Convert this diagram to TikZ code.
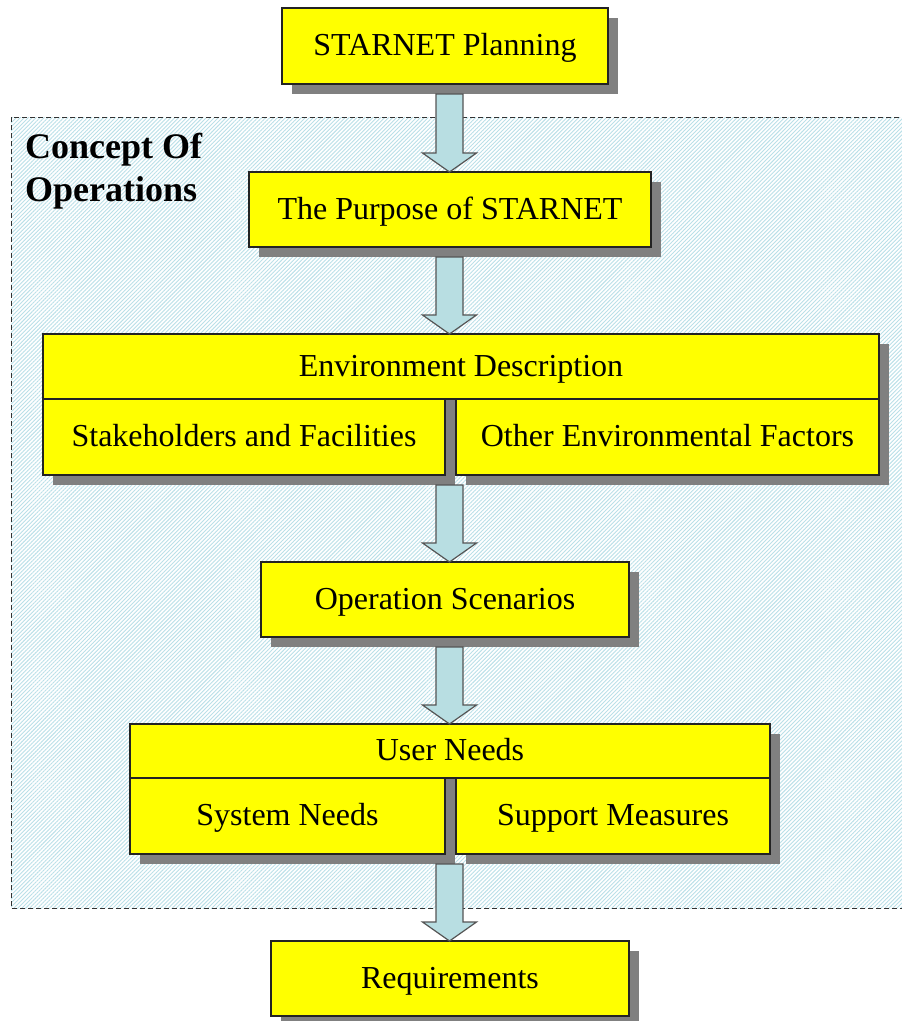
\documentclass[tikz,border=0pt]{standalone}
\usepackage{fontspec}
\setmainfont{Liberation Serif}
\usetikzlibrary{shadows,patterns.meta,calc}

\definecolor{boxyellow}{RGB}{255,255,0}
\definecolor{shadowgray}{RGB}{128,128,128}
\definecolor{boxline}{RGB}{35,35,35}
\definecolor{arrowfill}{RGB}{184,222,226}
\definecolor{arrowline}{RGB}{85,85,85}
\definecolor{hatchblue}{RGB}{186,224,232}
\definecolor{dashgray}{RGB}{50,50,50}

\tikzset{
  box/.style={rectangle, draw=boxline, line width=1.2pt, fill=boxyellow,
    inner sep=0pt, outer sep=0pt, anchor=north west,
    text height=21pt, text depth=2pt,
    font=\fontsize{32}{38}\selectfont,
    drop shadow={shadow xshift=10pt, shadow yshift=-10pt,
                 fill=shadowgray, opacity=1}},
  region/.style={draw=dashgray, line width=1pt, dash pattern=on 5pt off 3pt,
    pattern={Lines[angle=45, distance=2.8pt, line width=0.9pt]},
    pattern color=hatchblue},
  regionlabel/.style={anchor=north west, inner sep=0pt, align=left,
    font=\fontsize{36}{43}\selectfont\bfseries},
  flowarrow/.style={draw=arrowline, line width=1.2pt, fill=arrowfill,
    line join=miter},
}

% block arrow from the shadow of one box down to the top of the next
\newcommand\flowarrow[2]{%
  \path[flowarrow] let \p1=($(axis|-#1.south)+(0,10)$), \p2=(axis|-#2.north) in
    (\x1-13.5pt,\y1) -- (\x1+13.5pt,\y1) -- (\x1+13.5pt,\y2+19pt)
    -- (\x1+27pt,\y2+19pt) -- (\x1,\y2) -- (\x1-27pt,\y2+19pt)
    -- (\x1-13.5pt,\y2+19pt) -- cycle;}

\begin{document}
\begin{tikzpicture}[x=1pt,y=-1pt]
  \useasboundingbox (0,0) rectangle (902,1021);
  \fill[white] (0,0) rectangle (902,1021);

  % hatched concept-of-operations area
  \draw[region] (11,117) rectangle (916,908);
  \node[regionlabel] (conops) at (25,133) {Concept Of\\Operations};

  \coordinate (axis) at (449.5,0);

  \node[box, minimum width=326pt, minimum height=76pt] (plan) at (282,8) {STARNET Planning};
  \node[box, minimum width=402pt, minimum height=75pt] (purpose) at (249,172) {The Purpose of STARNET};

  \node[box, minimum width=836pt, minimum height=65pt] (envhead) at (43,334) {Environment Description};
  \node[box, minimum width=402pt, minimum height=76pt] (stake) at (43,399) {Stakeholders and Facilities};
  \node[box, minimum width=423pt, minimum height=76pt] (other) at (456,399) {Other Environmental Factors};

  \node[box, minimum width=368pt, minimum height=75pt] (scen) at (261,562) {Operation Scenarios};

  \node[box, minimum width=640pt, minimum height=54pt] (userhead) at (130,724) {User Needs};
  \node[box, minimum width=315pt, minimum height=76pt] (sysneeds) at (130,778) {System Needs};
  \node[box, minimum width=314pt, minimum height=76pt] (support) at (456,778) {Support Measures};

  \node[box, minimum width=358pt, minimum height=75pt] (req) at (271,941) {Requirements};

  \flowarrow{plan}{purpose}
  \flowarrow{purpose}{envhead}
  \flowarrow{stake}{scen}
  \flowarrow{scen}{userhead}
  \flowarrow{sysneeds}{req}
\end{tikzpicture}
\end{document}
